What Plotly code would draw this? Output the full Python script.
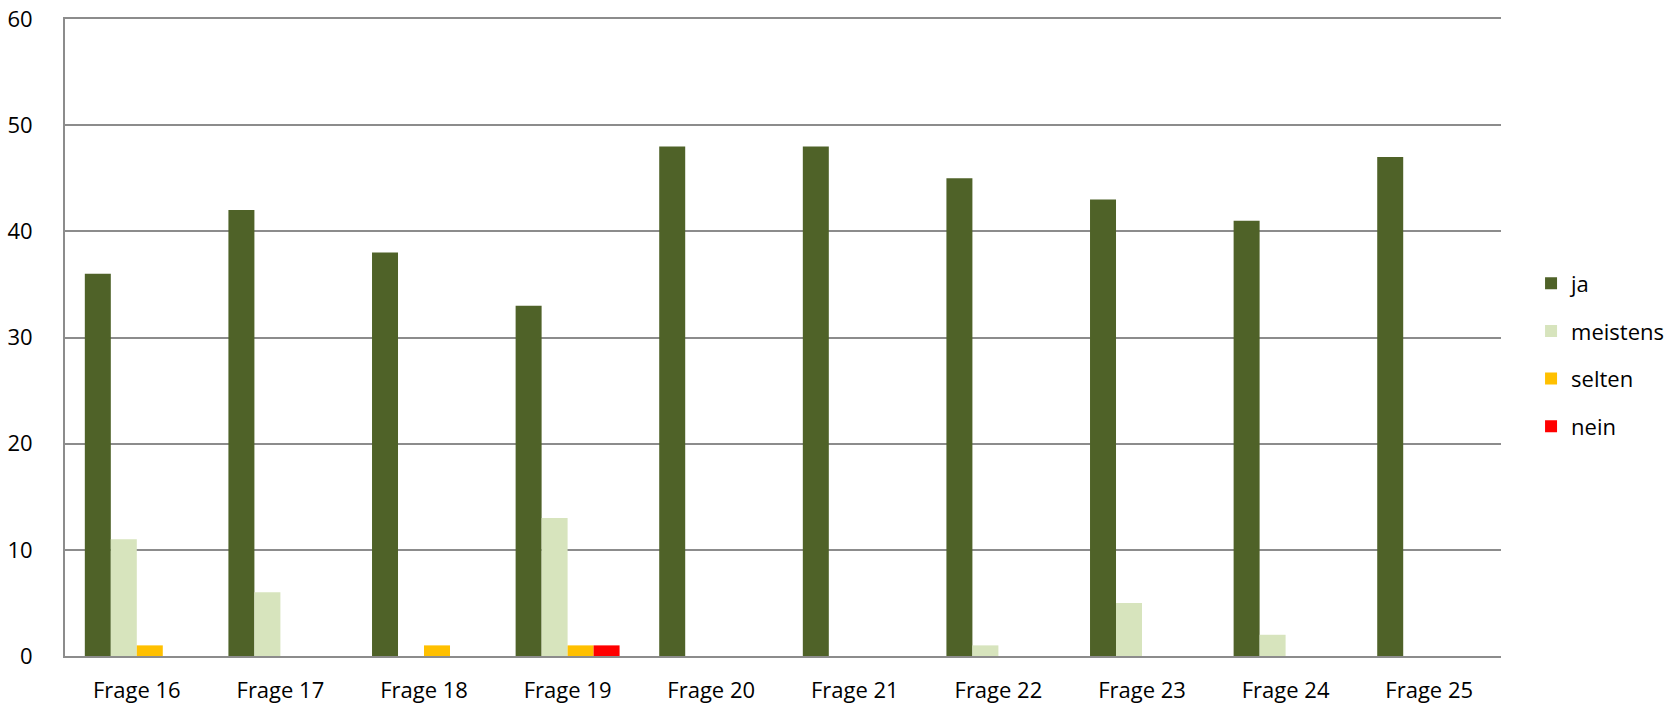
import plotly.graph_objects as go

categories = ["Frage 16", "Frage 17", "Frage 18", "Frage 19", "Frage 20",
              "Frage 21", "Frage 22", "Frage 23", "Frage 24", "Frage 25"]
ja = [36, 42, 38, 33, 48, 48, 45, 43, 41, 47]
meistens = [11, 6, 0, 13, 0, 0, 1, 5, 2, 0]
selten = [1, 0, 1, 1, 0, 0, 0, 0, 0, 0]
nein = [0, 0, 0, 1, 0, 0, 0, 0, 0, 0]
series_names = ["ja", "meistens", "selten", "nein"]
colors = ["#4F6228", "#D7E4BD", "#FFC000", "#FF0000"]
y_ticks = [0, 10, 20, 30, 40, 50, 60]

FONT = "Open Sans"
FS = 22

fig = go.Figure()
for name, vals, col in zip(series_names, [ja, meistens, selten, nein], colors):
    fig.add_trace(go.Bar(
        x=categories, y=vals, name=name, legendgroup=name,
        marker=dict(color=col, line=dict(width=0)),
    ))

fig.update_layout(
    width=1672, height=704,
    margin=dict(l=65, r=171, t=19, b=48, autoexpand=False),
    paper_bgcolor="white", plot_bgcolor="white",
    barmode="group", bargap=0.276, bargroupgap=0,
    font=dict(family=FONT, size=FS, color="black"),
    showlegend=True,
    legend=dict(
        x=0.9157, xanchor="left", xref="container",
        y=0.4957, yanchor="middle", yref="container",
        traceorder="grouped", tracegroupgap=16,
        font=dict(family=FONT, size=FS, color="black"),
        itemwidth=30,
        bgcolor="rgba(0,0,0,0)",
    ),
    xaxis=dict(
        range=[-0.5, 9.5], showgrid=False, automargin=False,
        showline=True, linecolor="#8c8c8c", linewidth=2, mirror=True,
        ticks="outside", ticklen=14, tickcolor="rgba(0,0,0,0)",
        tickfont=dict(family=FONT, size=FS, color="black"),
        zeroline=False,
    ),
    yaxis=dict(
        range=[0, 60], tickvals=y_ticks, automargin=False,
        showgrid=True, gridcolor="#8c8c8c", gridwidth=1.5,
        showline=True, linecolor="#8c8c8c", linewidth=2,
        ticks="outside", ticklen=26, tickcolor="rgba(0,0,0,0)",
        tickfont=dict(family=FONT, size=FS, color="black"),
        zeroline=False,
    ),
)

fig.write_html(
    "out.html",
    config={"displayModeBar": False},
    post_script="document.body.style.margin='0px';document.body.style.overflow='hidden';",
)
